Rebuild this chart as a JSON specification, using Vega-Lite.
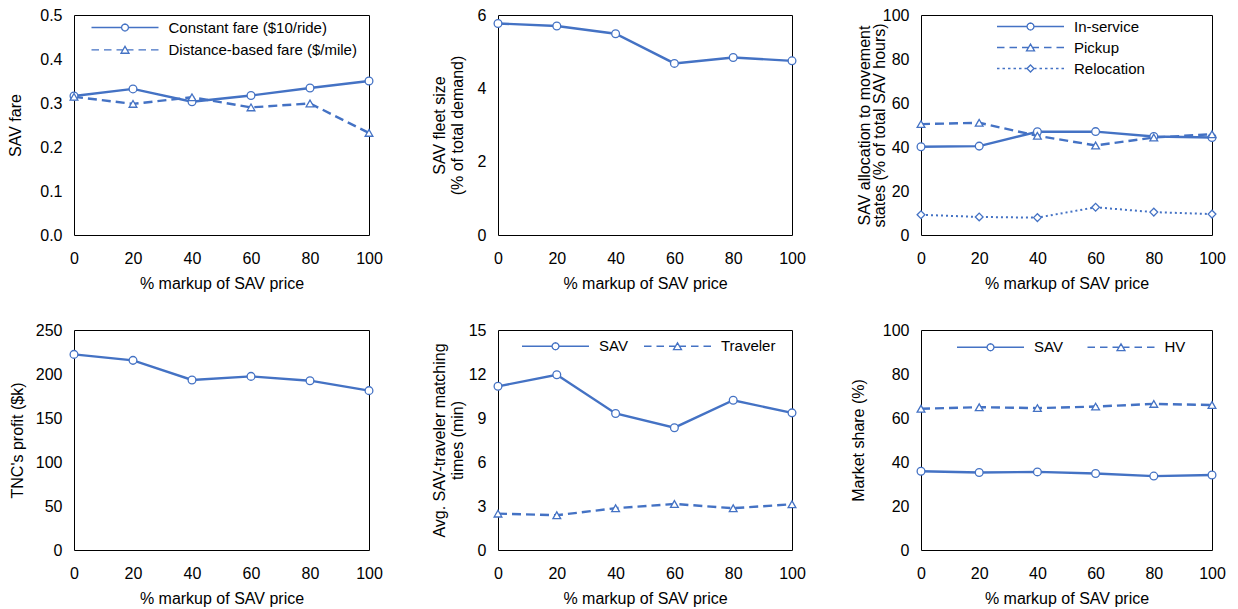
{
  "$schema": "https://vega.github.io/schema/vega-lite/v6.json",
  "background": "white",
  "padding": {"left": 6, "top": 6, "right": 5, "bottom": 5},
  "config": {
    "font": "Liberation Sans",
    "view": {"stroke": "black", "strokeWidth": 1},
    "axis": {"grid": false, "ticks": false, "domain": false, "labelFontSize": 16, "titleFontSize": 16, "labelColor": "black", "titleColor": "black", "titleFontWeight": "normal", "labelFont": "Liberation Sans", "titleFont": "Liberation Sans"},
    "axisX": {"labelPadding": 15, "labelFlush": false, "titlePadding": 9},
    "axisY": {"labelPadding": 12},
    "line": {"color": "#4472C4", "strokeWidth": 2.4},
    "point": {"filled": true, "fill": "white", "stroke": "#4472C4", "strokeWidth": 1.3, "size": 60, "opacity": 1},
    "legend": {"labelFontSize": 15, "labelColor": "black", "labelFont": "Liberation Sans", "labelLimit": 300, "padding": 0, "symbolSize": 100, "symbolOffset": 28, "labelOffset": 36, "symbolStrokeWidth": 2}
  },
  "resolve": {"scale": {"shape": "independent"}, "legend": {"shape": "independent"}},
  "datasets": {
    "p1": [
      {"x": 0, "y": 0.316, "series": "Constant fare ($10/ride)"},
      {"x": 20, "y": 0.332, "series": "Constant fare ($10/ride)"},
      {"x": 40, "y": 0.303, "series": "Constant fare ($10/ride)"},
      {"x": 60, "y": 0.317, "series": "Constant fare ($10/ride)"},
      {"x": 80, "y": 0.334, "series": "Constant fare ($10/ride)"},
      {"x": 100, "y": 0.350, "series": "Constant fare ($10/ride)"},
      {"x": 0, "y": 0.314, "series": "Distance-based fare ($/mile)"},
      {"x": 20, "y": 0.298, "series": "Distance-based fare ($/mile)"},
      {"x": 40, "y": 0.313, "series": "Distance-based fare ($/mile)"},
      {"x": 60, "y": 0.290, "series": "Distance-based fare ($/mile)"},
      {"x": 80, "y": 0.299, "series": "Distance-based fare ($/mile)"},
      {"x": 100, "y": 0.232, "series": "Distance-based fare ($/mile)"}
    ],
    "p2": [
      {"x": 0, "y": 5.77}, {"x": 20, "y": 5.70}, {"x": 40, "y": 5.49},
      {"x": 60, "y": 4.68}, {"x": 80, "y": 4.84}, {"x": 100, "y": 4.75}
    ],
    "p3": [
      {"x": 0, "y": 40.1, "series": "In-service"},
      {"x": 20, "y": 40.4, "series": "In-service"},
      {"x": 40, "y": 46.9, "series": "In-service"},
      {"x": 60, "y": 47.0, "series": "In-service"},
      {"x": 80, "y": 44.8, "series": "In-service"},
      {"x": 100, "y": 44.3, "series": "In-service"},
      {"x": 0, "y": 50.4, "series": "Pickup"},
      {"x": 20, "y": 51.0, "series": "Pickup"},
      {"x": 40, "y": 45.1, "series": "Pickup"},
      {"x": 60, "y": 40.7, "series": "Pickup"},
      {"x": 80, "y": 44.3, "series": "Pickup"},
      {"x": 100, "y": 45.8, "series": "Pickup"},
      {"x": 0, "y": 9.2, "series": "Relocation"},
      {"x": 20, "y": 8.2, "series": "Relocation"},
      {"x": 40, "y": 7.9, "series": "Relocation"},
      {"x": 60, "y": 12.6, "series": "Relocation"},
      {"x": 80, "y": 10.4, "series": "Relocation"},
      {"x": 100, "y": 9.5, "series": "Relocation"}
    ],
    "p4": [
      {"x": 0, "y": 222.3}, {"x": 20, "y": 215.5}, {"x": 40, "y": 193.2},
      {"x": 60, "y": 197.3}, {"x": 80, "y": 192.4}, {"x": 100, "y": 181.1}
    ],
    "p5": [
      {"x": 0, "y": 11.16, "series": "SAV"},
      {"x": 20, "y": 11.95, "series": "SAV"},
      {"x": 40, "y": 9.31, "series": "SAV"},
      {"x": 60, "y": 8.34, "series": "SAV"},
      {"x": 80, "y": 10.21, "series": "SAV"},
      {"x": 100, "y": 9.35, "series": "SAV"},
      {"x": 0, "y": 2.48, "series": "Traveler"},
      {"x": 20, "y": 2.37, "series": "Traveler"},
      {"x": 40, "y": 2.85, "series": "Traveler"},
      {"x": 60, "y": 3.14, "series": "Traveler"},
      {"x": 80, "y": 2.85, "series": "Traveler"},
      {"x": 100, "y": 3.12, "series": "Traveler"}
    ],
    "p6": [
      {"x": 0, "y": 35.8, "series": "SAV"},
      {"x": 20, "y": 35.2, "series": "SAV"},
      {"x": 40, "y": 35.5, "series": "SAV"},
      {"x": 60, "y": 34.8, "series": "SAV"},
      {"x": 80, "y": 33.6, "series": "SAV"},
      {"x": 100, "y": 34.1, "series": "SAV"},
      {"x": 0, "y": 64.2, "series": "HV"},
      {"x": 20, "y": 64.9, "series": "HV"},
      {"x": 40, "y": 64.5, "series": "HV"},
      {"x": 60, "y": 65.2, "series": "HV"},
      {"x": 80, "y": 66.4, "series": "HV"},
      {"x": 100, "y": 65.9, "series": "HV"}
    ]
  },
  "columns": 3,
  "spacing": {"row": 95, "column": 129},
  "bounds": "flush",
  "concat": [
    {
      "width": 295, "height": 220,
      "data": {"name": "p1"},
      "encoding": {
        "x": {"field": "x", "type": "quantitative", "scale": {"domain": [0, 100], "nice": false, "zero": false}, "axis": {"values": [0, 20, 40, 60, 80, 100], "title": "% markup of SAV price"}},
        "y": {"field": "y", "type": "quantitative", "scale": {"domain": [0, 0.5], "nice": false}, "axis": {"values": [0, 0.1, 0.2, 0.3, 0.4, 0.5], "format": ".1f", "title": "SAV fare", "titleX": -51}}
      },
      "resolve": {"scale": {"shape": "independent"}},
      "layer": [
        {"transform": [{"filter": "datum.series === 'Constant fare ($10/ride)'"}], "mark": {"type": "line"}},
        {"transform": [{"filter": "datum.series === 'Distance-based fare ($/mile)'"}], "mark": {"type": "line", "strokeDash": [9, 5]}},
        {"mark": {"type": "point"},
         "encoding": {"shape": {"field": "series", "type": "nominal", "scale": {"domain": ["Distance-based fare ($/mile)", "Constant fare ($10/ride)"], "range": ["triangle-up", "circle"]}, "legend": null}}},
        {"transform": [{"filter": "false"}], "mark": {"type": "point", "strokeWidth": 2},
         "encoding": {"shape": {"field": "series", "type": "nominal",
           "scale": {"domain": ["Constant fare ($10/ride)", "Distance-based fare ($/mile)"], "range": ["M-6.7,0L-0.7,0M0.7,0L6.7,0M0.7,0L0.606,0.35L0.35,0.606L0,0.7L-0.35,0.606L-0.606,0.35L-0.7,0L-0.606,-0.35L-0.35,-0.606L0,-0.7L0.35,-0.606L0.606,-0.35Z", "M-6.7,0L-5.2,0M-4.2,0L-2.7,0M-1.7,0L-0.4,0M0.4,0L1.7,0M2.7,0L4.2,0M5.2,0L6.7,0M0,-0.69L-0.8,0.69L0.8,0.69Z"]},
           "legend": {"title": null, "orient": "none", "legendX": 15.5, "legendY": 5, "direction": "vertical", "rowPadding": 6.3}}}}
      ]
    },
    {
      "width": 294, "height": 220,
      "data": {"name": "p2"},
      "encoding": {
        "x": {"field": "x", "type": "quantitative", "scale": {"domain": [0, 100], "nice": false, "zero": false}, "axis": {"values": [0, 20, 40, 60, 80, 100], "title": "% markup of SAV price"}},
        "y": {"field": "y", "type": "quantitative", "scale": {"domain": [0, 6], "nice": false}, "axis": {"values": [0, 2, 4, 6], "title": ["SAV fleet size", "(% of total demand)"], "titleX": -51, "titleLineHeight": 18}}
      },
      "layer": [
        {"mark": {"type": "line"}},
        {"mark": {"type": "point"}}
      ]
    },
    {
      "width": 291, "height": 220,
      "data": {"name": "p3"},
      "encoding": {
        "x": {"field": "x", "type": "quantitative", "scale": {"domain": [0, 100], "nice": false, "zero": false}, "axis": {"values": [0, 20, 40, 60, 80, 100], "title": "% markup of SAV price"}},
        "y": {"field": "y", "type": "quantitative", "scale": {"domain": [0, 100], "nice": false}, "axis": {"values": [0, 20, 40, 60, 80, 100], "title": ["SAV allocation to movement", "states (% of total SAV hours)"], "titleX": -49, "titleLineHeight": 15}}
      },
      "resolve": {"scale": {"shape": "independent"}},
      "layer": [
        {"transform": [{"filter": "datum.series === 'In-service'"}], "mark": {"type": "line"}},
        {"transform": [{"filter": "datum.series === 'Pickup'"}], "mark": {"type": "line", "strokeDash": [9, 5]}},
        {"transform": [{"filter": "datum.series === 'Relocation'"}], "mark": {"type": "line", "strokeDash": [2, 3], "strokeWidth": 2}},
        {"mark": {"type": "point"},
         "encoding": {"shape": {"field": "series", "type": "nominal", "scale": {"domain": ["Relocation", "Pickup", "In-service"], "range": ["diamond", "triangle-up", "circle"]}, "legend": null}}},
        {"transform": [{"filter": "false"}], "mark": {"type": "point", "strokeWidth": 2},
         "encoding": {"shape": {"field": "series", "type": "nominal",
           "scale": {"domain": ["In-service", "Pickup", "Relocation"], "range": ["M-6.7,0L-0.7,0M0.7,0L6.7,0M0.7,0L0.606,0.35L0.35,0.606L0,0.7L-0.35,0.606L-0.606,0.35L-0.7,0L-0.606,-0.35L-0.35,-0.606L0,-0.7L0.35,-0.606L0.606,-0.35Z", "M-6.7,0L-5.2,0M-4.2,0L-2.7,0M-1.7,0L-0.4,0M0.4,0L1.7,0M2.7,0L4.2,0M5.2,0L6.7,0M0,-0.69L-0.8,0.69L0.8,0.69Z", "M-6.7,0L-6.2,0M-5.6,0L-5.1,0M-4.5,0L-4,0M-3.4,0L-2.9,0M-2.3,0L-1.8,0M-1.2,0L-0.8,0M0.8,0L1.2,0M1.8,0L2.3,0M2.9,0L3.4,0M4,0L4.5,0M5.1,0L5.6,0M6.2,0L6.7,0M-0.7,0L0,-0.7L0.7,0L0,0.7Z"]},
           "legend": {"title": null, "orient": "none", "legendX": 74, "legendY": 4, "direction": "vertical", "rowPadding": 5}}}}
      ]
    },
    {
      "width": 295, "height": 220,
      "data": {"name": "p4"},
      "encoding": {
        "x": {"field": "x", "type": "quantitative", "scale": {"domain": [0, 100], "nice": false, "zero": false}, "axis": {"values": [0, 20, 40, 60, 80, 100], "title": "% markup of SAV price"}},
        "y": {"field": "y", "type": "quantitative", "scale": {"domain": [0, 250], "nice": false}, "axis": {"values": [0, 50, 100, 150, 200, 250], "title": "TNC's profit ($k)", "titleX": -48.5}}
      },
      "layer": [
        {"mark": {"type": "line"}},
        {"mark": {"type": "point"}}
      ]
    },
    {
      "width": 294, "height": 220,
      "data": {"name": "p5"},
      "encoding": {
        "x": {"field": "x", "type": "quantitative", "scale": {"domain": [0, 100], "nice": false, "zero": false}, "axis": {"values": [0, 20, 40, 60, 80, 100], "title": "% markup of SAV price"}},
        "y": {"field": "y", "type": "quantitative", "scale": {"domain": [0, 15], "nice": false}, "axis": {"values": [0, 3, 6, 9, 12, 15], "title": ["Avg. SAV-traveler matching", "times (min)"], "titleX": -51, "titleLineHeight": 18}}
      },
      "resolve": {"scale": {"shape": "independent"}},
      "layer": [
        {"transform": [{"filter": "datum.series === 'SAV'"}], "mark": {"type": "line"}},
        {"transform": [{"filter": "datum.series === 'Traveler'"}], "mark": {"type": "line", "strokeDash": [9, 5]}},
        {"mark": {"type": "point"},
         "encoding": {"shape": {"field": "series", "type": "nominal", "scale": {"domain": ["Traveler", "SAV"], "range": ["triangle-up", "circle"]}, "legend": null}}},
        {"transform": [{"filter": "false"}], "mark": {"type": "point", "strokeWidth": 2},
         "encoding": {"shape": {"field": "series", "type": "nominal",
           "scale": {"domain": ["SAV", "Traveler"], "range": ["M-6.7,0L-0.7,0M0.7,0L6.7,0M0.7,0L0.606,0.35L0.35,0.606L0,0.7L-0.35,0.606L-0.606,0.35L-0.7,0L-0.606,-0.35L-0.35,-0.606L0,-0.7L0.35,-0.606L0.606,-0.35Z", "M-6.7,0L-5.2,0M-4.2,0L-2.7,0M-1.7,0L-0.4,0M0.4,0L1.7,0M2.7,0L4.2,0M5.2,0L6.7,0M0,-0.69L-0.8,0.69L0.8,0.69Z"]},
           "legend": {"title": null, "orient": "none", "legendX": 22, "legendY": 8.5, "direction": "horizontal", "columnPadding": 13}}}}
      ]
    },
    {
      "width": 291, "height": 220,
      "data": {"name": "p6"},
      "encoding": {
        "x": {"field": "x", "type": "quantitative", "scale": {"domain": [0, 100], "nice": false, "zero": false}, "axis": {"values": [0, 20, 40, 60, 80, 100], "title": "% markup of SAV price"}},
        "y": {"field": "y", "type": "quantitative", "scale": {"domain": [0, 100], "nice": false}, "axis": {"values": [0, 20, 40, 60, 80, 100], "title": "Market share (%)", "titleX": -54.5}}
      },
      "resolve": {"scale": {"shape": "independent"}},
      "layer": [
        {"transform": [{"filter": "datum.series === 'SAV'"}], "mark": {"type": "line"}},
        {"transform": [{"filter": "datum.series === 'HV'"}], "mark": {"type": "line", "strokeDash": [9, 5]}},
        {"mark": {"type": "point"},
         "encoding": {"shape": {"field": "series", "type": "nominal", "scale": {"domain": ["HV", "SAV"], "range": ["triangle-up", "circle"]}, "legend": null}}},
        {"transform": [{"filter": "false"}], "mark": {"type": "point", "strokeWidth": 2},
         "encoding": {"shape": {"field": "series", "type": "nominal",
           "scale": {"domain": ["SAV", "HV"], "range": ["M-6.7,0L-0.7,0M0.7,0L6.7,0M0.7,0L0.606,0.35L0.35,0.606L0,0.7L-0.35,0.606L-0.606,0.35L-0.7,0L-0.606,-0.35L-0.35,-0.606L0,-0.7L0.35,-0.606L0.606,-0.35Z", "M-6.7,0L-5.2,0M-4.2,0L-2.7,0M-1.7,0L-0.4,0M0.4,0L1.7,0M2.7,0L4.2,0M5.2,0L6.7,0M0,-0.69L-0.8,0.69L0.8,0.69Z"]},
           "legend": {"title": null, "orient": "none", "legendX": 34, "legendY": 9.5, "direction": "horizontal", "columnPadding": 21.5}}}}
      ]
    }
  ]
}
